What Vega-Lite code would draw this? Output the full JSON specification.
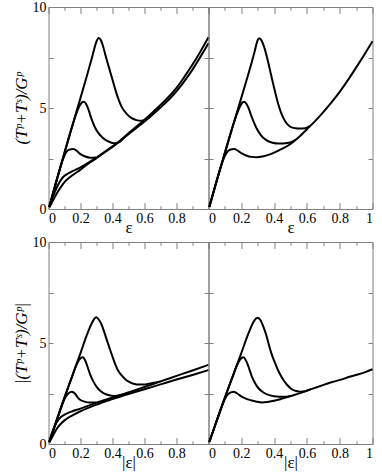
{
  "$schema": "https://vega.github.io/schema/vega-lite/v6.json",
  "background": "white",
  "padding": {"left": 11.5, "top": 0, "right": 0, "bottom": 0},
  "config": {
    "font": "Liberation Serif",
    "view": {"stroke": null},
    "axis": {"grid": false, "labelFont": "Liberation Serif", "labelFontSize": 14, "labelColor": "#000", "titleFont": "Liberation Serif", "titleColor": "#000", "titleFontWeight": "normal", "domainColor": "#808080", "tickColor": "#808080", "domainWidth": 1, "tickWidth": 1},
    "line": {"color": "black", "strokeWidth": 2, "interpolate": "monotone"}
  },
  "datasets": {
    "tl": [
      {"c":"A","x":0.005,"y":0.1},{"c":"A","x":0.05,"y":1.4},{"c":"A","x":0.1,"y":2.78},{"c":"A","x":0.15,"y":4.15},{"c":"A","x":0.2,"y":5.5},{"c":"A","x":0.24,"y":6.6},{"c":"A","x":0.265,"y":7.3},{"c":"A","x":0.285,"y":7.9},{"c":"A","x":0.3,"y":8.3},{"c":"A","x":0.312,"y":8.47},{"c":"A","x":0.325,"y":8.4},{"c":"A","x":0.34,"y":8.08},{"c":"A","x":0.36,"y":7.5},{"c":"A","x":0.38,"y":6.95},{"c":"A","x":0.4,"y":6.4},{"c":"A","x":0.42,"y":5.85},{"c":"A","x":0.44,"y":5.38},{"c":"A","x":0.46,"y":5.02},{"c":"A","x":0.49,"y":4.7},{"c":"A","x":0.52,"y":4.5},{"c":"A","x":0.55,"y":4.4},{"c":"A","x":0.58,"y":4.37},{"c":"A","x":0.61,"y":4.45},{"c":"A","x":0.64,"y":4.62},{"c":"A","x":0.67,"y":4.92},
      {"c":"B","x":0.005,"y":0.1},{"c":"B","x":0.05,"y":1.4},{"c":"B","x":0.1,"y":2.78},{"c":"B","x":0.15,"y":4.15},{"c":"B","x":0.175,"y":4.75},{"c":"B","x":0.195,"y":5.12},{"c":"B","x":0.21,"y":5.28},{"c":"B","x":0.222,"y":5.31},{"c":"B","x":0.235,"y":5.2},{"c":"B","x":0.25,"y":4.92},{"c":"B","x":0.267,"y":4.5},{"c":"B","x":0.29,"y":4.05},{"c":"B","x":0.31,"y":3.78},{"c":"B","x":0.34,"y":3.52},{"c":"B","x":0.37,"y":3.36},{"c":"B","x":0.41,"y":3.25},{"c":"B","x":0.44,"y":3.3},{"c":"B","x":0.47,"y":3.52},
      {"c":"C","x":0.005,"y":0.1},{"c":"C","x":0.05,"y":1.4},{"c":"C","x":0.09,"y":2.45},{"c":"C","x":0.11,"y":2.8},{"c":"C","x":0.13,"y":2.94},{"c":"C","x":0.156,"y":2.97},{"c":"C","x":0.18,"y":2.85},{"c":"C","x":0.2,"y":2.72},{"c":"C","x":0.23,"y":2.6},{"c":"C","x":0.26,"y":2.54},{"c":"C","x":0.3,"y":2.55},
      {"c":"U","x":0.005,"y":0.1},{"c":"U","x":0.02,"y":0.45},{"c":"U","x":0.04,"y":0.85},{"c":"U","x":0.06,"y":1.2},{"c":"U","x":0.08,"y":1.47},{"c":"U","x":0.1,"y":1.64},{"c":"U","x":0.125,"y":1.77},{"c":"U","x":0.15,"y":1.87},{"c":"U","x":0.2,"y":2.06},{"c":"U","x":0.25,"y":2.3},{"c":"U","x":0.3,"y":2.55},{"c":"U","x":0.35,"y":2.82},{"c":"U","x":0.4,"y":3.1},{"c":"U","x":0.45,"y":3.4},{"c":"U","x":0.5,"y":3.75},{"c":"U","x":0.55,"y":4.08},{"c":"U","x":0.6,"y":4.42},{"c":"U","x":0.65,"y":4.78},{"c":"U","x":0.7,"y":5.15},{"c":"U","x":0.75,"y":5.55},{"c":"U","x":0.8,"y":6.0},{"c":"U","x":0.85,"y":6.55},{"c":"U","x":0.9,"y":7.15},{"c":"U","x":0.95,"y":7.8},{"c":"U","x":1.0,"y":8.5},
      {"c":"L","x":0.005,"y":0.08},{"c":"L","x":0.02,"y":0.3},{"c":"L","x":0.04,"y":0.6},{"c":"L","x":0.06,"y":0.88},{"c":"L","x":0.08,"y":1.12},{"c":"L","x":0.1,"y":1.33},{"c":"L","x":0.125,"y":1.52},{"c":"L","x":0.15,"y":1.67},{"c":"L","x":0.2,"y":1.95},{"c":"L","x":0.25,"y":2.25},{"c":"L","x":0.3,"y":2.52},{"c":"L","x":0.35,"y":2.8},{"c":"L","x":0.4,"y":3.07},{"c":"L","x":0.5,"y":3.7},{"c":"L","x":0.6,"y":4.33},{"c":"L","x":0.7,"y":5.02},{"c":"L","x":0.8,"y":5.83},{"c":"L","x":0.9,"y":6.9},{"c":"L","x":1.0,"y":8.2}
    ],
    "tr": [
      {"c":"C","x":0.005,"y":0.1},{"c":"C","x":0.05,"y":1.4},{"c":"C","x":0.09,"y":2.45},{"c":"C","x":0.11,"y":2.78},{"c":"C","x":0.13,"y":2.93},{"c":"C","x":0.157,"y":2.97},{"c":"C","x":0.18,"y":2.88},{"c":"C","x":0.2,"y":2.77},{"c":"C","x":0.23,"y":2.65},{"c":"C","x":0.26,"y":2.58},{"c":"C","x":0.295,"y":2.56},{"c":"C","x":0.33,"y":2.6},{"c":"C","x":0.37,"y":2.69},{"c":"C","x":0.4,"y":2.79},{"c":"C","x":0.45,"y":2.99},{"c":"C","x":0.5,"y":3.22},{"c":"C","x":0.55,"y":3.55},{"c":"C","x":0.6,"y":3.95},{"c":"C","x":0.65,"y":4.35},{"c":"C","x":0.7,"y":4.8},{"c":"C","x":0.75,"y":5.28},{"c":"C","x":0.8,"y":5.8},{"c":"C","x":0.85,"y":6.38},{"c":"C","x":0.9,"y":7.0},{"c":"C","x":0.95,"y":7.64},{"c":"C","x":1.0,"y":8.3},
      {"c":"B","x":0.005,"y":0.1},{"c":"B","x":0.05,"y":1.4},{"c":"B","x":0.1,"y":2.78},{"c":"B","x":0.15,"y":4.15},{"c":"B","x":0.175,"y":4.75},{"c":"B","x":0.195,"y":5.12},{"c":"B","x":0.208,"y":5.28},{"c":"B","x":0.218,"y":5.31},{"c":"B","x":0.232,"y":5.2},{"c":"B","x":0.248,"y":4.92},{"c":"B","x":0.265,"y":4.52},{"c":"B","x":0.29,"y":4.05},{"c":"B","x":0.32,"y":3.65},{"c":"B","x":0.35,"y":3.42},{"c":"B","x":0.39,"y":3.28},{"c":"B","x":0.43,"y":3.24},{"c":"B","x":0.47,"y":3.26},{"c":"B","x":0.5,"y":3.3},{"c":"B","x":0.53,"y":3.42},
      {"c":"A","x":0.005,"y":0.1},{"c":"A","x":0.05,"y":1.4},{"c":"A","x":0.1,"y":2.78},{"c":"A","x":0.15,"y":4.15},{"c":"A","x":0.2,"y":5.5},{"c":"A","x":0.24,"y":6.6},{"c":"A","x":0.265,"y":7.3},{"c":"A","x":0.283,"y":7.85},{"c":"A","x":0.297,"y":8.3},{"c":"A","x":0.308,"y":8.45},{"c":"A","x":0.32,"y":8.38},{"c":"A","x":0.34,"y":8.0},{"c":"A","x":0.36,"y":7.4},{"c":"A","x":0.38,"y":6.7},{"c":"A","x":0.4,"y":6.0},{"c":"A","x":0.42,"y":5.35},{"c":"A","x":0.44,"y":4.82},{"c":"A","x":0.46,"y":4.45},{"c":"A","x":0.48,"y":4.2},{"c":"A","x":0.5,"y":4.07},{"c":"A","x":0.53,"y":4.0},{"c":"A","x":0.56,"y":3.98},{"c":"A","x":0.59,"y":4.0},{"c":"A","x":0.62,"y":4.11}
    ],
    "bl": [
      {"c":"A","x":0.005,"y":0.1},{"c":"A","x":0.05,"y":1.15},{"c":"A","x":0.1,"y":2.3},{"c":"A","x":0.15,"y":3.4},{"c":"A","x":0.2,"y":4.5},{"c":"A","x":0.24,"y":5.4},{"c":"A","x":0.26,"y":5.8},{"c":"A","x":0.28,"y":6.12},{"c":"A","x":0.298,"y":6.27},{"c":"A","x":0.315,"y":6.15},{"c":"A","x":0.335,"y":5.85},{"c":"A","x":0.35,"y":5.5},{"c":"A","x":0.37,"y":5.02},{"c":"A","x":0.39,"y":4.55},{"c":"A","x":0.41,"y":4.1},{"c":"A","x":0.433,"y":3.66},{"c":"A","x":0.46,"y":3.37},{"c":"A","x":0.485,"y":3.17},{"c":"A","x":0.51,"y":3.05},{"c":"A","x":0.537,"y":2.97},{"c":"A","x":0.565,"y":2.94},{"c":"A","x":0.595,"y":2.94},{"c":"A","x":0.63,"y":2.98},{"c":"A","x":0.67,"y":3.04},{"c":"A","x":0.7,"y":3.1},
      {"c":"B","x":0.005,"y":0.1},{"c":"B","x":0.05,"y":1.15},{"c":"B","x":0.1,"y":2.3},{"c":"B","x":0.15,"y":3.4},{"c":"B","x":0.17,"y":3.83},{"c":"B","x":0.19,"y":4.15},{"c":"B","x":0.205,"y":4.27},{"c":"B","x":0.215,"y":4.29},{"c":"B","x":0.23,"y":4.12},{"c":"B","x":0.245,"y":3.8},{"c":"B","x":0.26,"y":3.45},{"c":"B","x":0.28,"y":3.1},{"c":"B","x":0.3,"y":2.84},{"c":"B","x":0.325,"y":2.62},{"c":"B","x":0.35,"y":2.49},{"c":"B","x":0.38,"y":2.41},{"c":"B","x":0.41,"y":2.38},{"c":"B","x":0.45,"y":2.42},{"c":"B","x":0.5,"y":2.55},
      {"c":"C","x":0.005,"y":0.1},{"c":"C","x":0.05,"y":1.15},{"c":"C","x":0.08,"y":1.83},{"c":"C","x":0.1,"y":2.23},{"c":"C","x":0.12,"y":2.47},{"c":"C","x":0.146,"y":2.59},{"c":"C","x":0.165,"y":2.5},{"c":"C","x":0.183,"y":2.3},{"c":"C","x":0.2,"y":2.18},{"c":"C","x":0.225,"y":2.1},{"c":"C","x":0.26,"y":2.05},{"c":"C","x":0.3,"y":2.05},
      {"c":"U","x":0.005,"y":0.1},{"c":"U","x":0.02,"y":0.5},{"c":"U","x":0.04,"y":0.9},{"c":"U","x":0.06,"y":1.18},{"c":"U","x":0.08,"y":1.35},{"c":"U","x":0.1,"y":1.45},{"c":"U","x":0.12,"y":1.53},{"c":"U","x":0.15,"y":1.62},{"c":"U","x":0.2,"y":1.75},{"c":"U","x":0.3,"y":2.05},{"c":"U","x":0.4,"y":2.3},{"c":"U","x":0.5,"y":2.55},{"c":"U","x":0.6,"y":2.82},{"c":"U","x":0.7,"y":3.1},{"c":"U","x":0.8,"y":3.37},{"c":"U","x":0.9,"y":3.64},{"c":"U","x":1.0,"y":3.92},
      {"c":"L","x":0.005,"y":0.08},{"c":"L","x":0.02,"y":0.3},{"c":"L","x":0.04,"y":0.6},{"c":"L","x":0.06,"y":0.85},{"c":"L","x":0.08,"y":1.03},{"c":"L","x":0.1,"y":1.17},{"c":"L","x":0.12,"y":1.28},{"c":"L","x":0.15,"y":1.42},{"c":"L","x":0.2,"y":1.62},{"c":"L","x":0.3,"y":1.95},{"c":"L","x":0.4,"y":2.22},{"c":"L","x":0.5,"y":2.47},{"c":"L","x":0.6,"y":2.71},{"c":"L","x":0.7,"y":2.95},{"c":"L","x":0.8,"y":3.19},{"c":"L","x":0.9,"y":3.42},{"c":"L","x":1.0,"y":3.66}
    ],
    "br": [
      {"c":"C","x":0.005,"y":0.1},{"c":"C","x":0.05,"y":1.15},{"c":"C","x":0.08,"y":1.83},{"c":"C","x":0.1,"y":2.23},{"c":"C","x":0.12,"y":2.47},{"c":"C","x":0.152,"y":2.59},{"c":"C","x":0.175,"y":2.5},{"c":"C","x":0.203,"y":2.34},{"c":"C","x":0.235,"y":2.22},{"c":"C","x":0.264,"y":2.15},{"c":"C","x":0.295,"y":2.09},{"c":"C","x":0.325,"y":2.06},{"c":"C","x":0.36,"y":2.08},{"c":"C","x":0.407,"y":2.15},{"c":"C","x":0.45,"y":2.25},{"c":"C","x":0.508,"y":2.39},{"c":"C","x":0.56,"y":2.52},{"c":"C","x":0.61,"y":2.67},{"c":"C","x":0.66,"y":2.81},{"c":"C","x":0.711,"y":2.95},{"c":"C","x":0.76,"y":3.08},{"c":"C","x":0.813,"y":3.2},{"c":"C","x":0.86,"y":3.33},{"c":"C","x":0.915,"y":3.45},{"c":"C","x":0.96,"y":3.57},{"c":"C","x":1.0,"y":3.7},
      {"c":"B","x":0.005,"y":0.1},{"c":"B","x":0.05,"y":1.15},{"c":"B","x":0.1,"y":2.3},{"c":"B","x":0.15,"y":3.4},{"c":"B","x":0.17,"y":3.83},{"c":"B","x":0.19,"y":4.15},{"c":"B","x":0.203,"y":4.27},{"c":"B","x":0.213,"y":4.29},{"c":"B","x":0.228,"y":4.14},{"c":"B","x":0.245,"y":3.8},{"c":"B","x":0.264,"y":3.35},{"c":"B","x":0.285,"y":3.0},{"c":"B","x":0.305,"y":2.76},{"c":"B","x":0.335,"y":2.55},{"c":"B","x":0.366,"y":2.43},{"c":"B","x":0.4,"y":2.36},{"c":"B","x":0.43,"y":2.34},{"c":"B","x":0.46,"y":2.34},{"c":"B","x":0.5,"y":2.37},
      {"c":"A","x":0.005,"y":0.1},{"c":"A","x":0.05,"y":1.15},{"c":"A","x":0.1,"y":2.3},{"c":"A","x":0.15,"y":3.4},{"c":"A","x":0.2,"y":4.5},{"c":"A","x":0.24,"y":5.4},{"c":"A","x":0.26,"y":5.8},{"c":"A","x":0.28,"y":6.12},{"c":"A","x":0.299,"y":6.25},{"c":"A","x":0.315,"y":6.15},{"c":"A","x":0.335,"y":5.8},{"c":"A","x":0.35,"y":5.45},{"c":"A","x":0.366,"y":4.98},{"c":"A","x":0.385,"y":4.45},{"c":"A","x":0.407,"y":3.99},{"c":"A","x":0.43,"y":3.55},{"c":"A","x":0.457,"y":3.17},{"c":"A","x":0.48,"y":2.92},{"c":"A","x":0.508,"y":2.71},{"c":"A","x":0.535,"y":2.62},{"c":"A","x":0.56,"y":2.59},{"c":"A","x":0.59,"y":2.61},{"c":"A","x":0.62,"y":2.7}
    ]
  },
  "columns": 2,
  "spacing": {"row": 33, "column": 0},
  "bounds": "flush",
  "concat": [
    {
      "width": 160, "height": 202,
      "data": {"name": "tl"},
      "resolve": {"axis": {"x": "independent", "y": "independent"}},
      "layer": [
        {"mark": {"type": "line"},
         "encoding": {
           "x": {"field": "x", "type": "quantitative", "scale": {"domain": [0, 1], "nice": false}, "axis": {"orient": "bottom", "values": [0, 0.2, 0.4, 0.6, 0.8], "format": "~g", "tickSize": -6.5, "labelPadding": 9, "title": "ε", "titleFontSize": 17, "titlePadding": -6}},
           "y": {"field": "y", "type": "quantitative", "scale": {"domain": [0, 10], "nice": false}, "axis": {"orient": "left", "values": [0, 2.5, 5, 7.5, 10], "labelExpr": "datum.value % 5 === 0 ? datum.label : ''", "tickSize": -4.5, "labelPadding": 7, "title": "(Tᵖ+Tˢ)/Gᵖ", "titleFontSize": 17, "titleFontStyle": "italic", "titlePadding": 2}},
           "detail": {"field": "c"}}},
        {"mark": {"type": "line", "opacity": 0},
         "encoding": {
           "x": {"field": "x", "type": "quantitative", "scale": {"domain": [0, 1], "nice": false}, "axis": {"orient": "bottom", "values": [0.1, 0.3, 0.5, 0.7, 0.9], "tickSize": -3.3, "labels": false, "domain": false, "title": null}},
           "y": {"field": "y", "type": "quantitative", "scale": {"domain": [0, 10], "nice": false}, "axis": {"orient": "right", "values": [0, 2.5, 5, 7.5, 10], "tickSize": -4.5, "labels": false, "title": null}},
           "detail": {"field": "c"}}},
        {"mark": {"type": "line", "opacity": 0},
         "encoding": {
           "x": {"field": "x", "type": "quantitative", "scale": {"domain": [0, 1], "nice": false}, "axis": {"orient": "top", "values": [0, 0.2, 0.4, 0.6, 0.8, 1], "tickSize": -6.5, "labels": false, "title": null}},
           "y": {"field": "y", "type": "quantitative", "scale": {"domain": [0, 10], "nice": false}, "axis": null},
           "detail": {"field": "c"}}},
        {"mark": {"type": "line", "opacity": 0},
         "encoding": {
           "x": {"field": "x", "type": "quantitative", "scale": {"domain": [0, 1], "nice": false}, "axis": {"orient": "top", "values": [0.1, 0.3, 0.5, 0.7, 0.9], "tickSize": -3.3, "labels": false, "domain": false, "title": null}},
           "y": {"field": "y", "type": "quantitative", "scale": {"domain": [0, 10], "nice": false}, "axis": null},
           "detail": {"field": "c"}}}
      ]
    },
    {
      "width": 164, "height": 202,
      "data": {"name": "tr"},
      "resolve": {"axis": {"x": "independent", "y": "independent"}},
      "layer": [
        {"mark": {"type": "line"},
         "encoding": {
           "x": {"field": "x", "type": "quantitative", "scale": {"domain": [0, 1], "nice": false}, "axis": {"orient": "bottom", "values": [0, 0.2, 0.4, 0.6, 0.8, 1], "format": "~g", "tickSize": -6.5, "labelPadding": 9, "title": "ε", "titleFontSize": 17, "titlePadding": -6}},
           "y": {"field": "y", "type": "quantitative", "scale": {"domain": [0, 10], "nice": false}, "axis": {"orient": "left", "values": [0, 2.5, 5, 7.5, 10], "tickSize": -4.5, "labels": false, "title": null}},
           "detail": {"field": "c"}}},
        {"mark": {"type": "line", "opacity": 0},
         "encoding": {
           "x": {"field": "x", "type": "quantitative", "scale": {"domain": [0, 1], "nice": false}, "axis": {"orient": "bottom", "values": [0.1, 0.3, 0.5, 0.7, 0.9], "tickSize": -3.3, "labels": false, "domain": false, "title": null}},
           "y": {"field": "y", "type": "quantitative", "scale": {"domain": [0, 10], "nice": false}, "axis": {"orient": "right", "values": [0, 2.5, 5, 7.5, 10], "tickSize": -4.5, "labels": false, "title": null}},
           "detail": {"field": "c"}}},
        {"mark": {"type": "line", "opacity": 0},
         "encoding": {
           "x": {"field": "x", "type": "quantitative", "scale": {"domain": [0, 1], "nice": false}, "axis": {"orient": "top", "values": [0, 0.2, 0.4, 0.6, 0.8, 1], "tickSize": -6.5, "labels": false, "title": null}},
           "y": {"field": "y", "type": "quantitative", "scale": {"domain": [0, 10], "nice": false}, "axis": null},
           "detail": {"field": "c"}}},
        {"mark": {"type": "line", "opacity": 0},
         "encoding": {
           "x": {"field": "x", "type": "quantitative", "scale": {"domain": [0, 1], "nice": false}, "axis": {"orient": "top", "values": [0.1, 0.3, 0.5, 0.7, 0.9], "tickSize": -3.3, "labels": false, "domain": false, "title": null}},
           "y": {"field": "y", "type": "quantitative", "scale": {"domain": [0, 10], "nice": false}, "axis": null},
           "detail": {"field": "c"}}}
      ]
    },
    {
      "width": 160, "height": 202,
      "data": {"name": "bl"},
      "resolve": {"axis": {"x": "independent", "y": "independent"}},
      "layer": [
        {"mark": {"type": "line"},
         "encoding": {
           "x": {"field": "x", "type": "quantitative", "scale": {"domain": [0, 1], "nice": false}, "axis": {"orient": "bottom", "values": [0, 0.2, 0.4, 0.6, 0.8], "format": "~g", "tickSize": -6.5, "labelPadding": 9, "title": "|ε|", "titleFontSize": 17, "titlePadding": -6}},
           "y": {"field": "y", "type": "quantitative", "scale": {"domain": [0, 10], "nice": false}, "axis": {"orient": "left", "values": [0, 2.5, 5, 7.5, 10], "labelExpr": "datum.value % 5 === 0 ? datum.label : ''", "tickSize": -4.5, "labelPadding": 7, "title": "|(Tᵖ+Tˢ)/Gᵖ|", "titleFontSize": 17, "titleFontStyle": "italic", "titlePadding": 2}},
           "detail": {"field": "c"}}},
        {"mark": {"type": "line", "opacity": 0},
         "encoding": {
           "x": {"field": "x", "type": "quantitative", "scale": {"domain": [0, 1], "nice": false}, "axis": {"orient": "bottom", "values": [0.1, 0.3, 0.5, 0.7, 0.9], "tickSize": -3.3, "labels": false, "domain": false, "title": null}},
           "y": {"field": "y", "type": "quantitative", "scale": {"domain": [0, 10], "nice": false}, "axis": {"orient": "right", "values": [0, 2.5, 5, 7.5, 10], "tickSize": -4.5, "labels": false, "title": null}},
           "detail": {"field": "c"}}},
        {"mark": {"type": "line", "opacity": 0},
         "encoding": {
           "x": {"field": "x", "type": "quantitative", "scale": {"domain": [0, 1], "nice": false}, "axis": {"orient": "top", "values": [0, 0.2, 0.4, 0.6, 0.8, 1], "tickSize": -6.5, "labels": false, "title": null}},
           "y": {"field": "y", "type": "quantitative", "scale": {"domain": [0, 10], "nice": false}, "axis": null},
           "detail": {"field": "c"}}},
        {"mark": {"type": "line", "opacity": 0},
         "encoding": {
           "x": {"field": "x", "type": "quantitative", "scale": {"domain": [0, 1], "nice": false}, "axis": {"orient": "top", "values": [0.1, 0.3, 0.5, 0.7, 0.9], "tickSize": -3.3, "labels": false, "domain": false, "title": null}},
           "y": {"field": "y", "type": "quantitative", "scale": {"domain": [0, 10], "nice": false}, "axis": null},
           "detail": {"field": "c"}}}
      ]
    },
    {
      "width": 164, "height": 202,
      "data": {"name": "br"},
      "resolve": {"axis": {"x": "independent", "y": "independent"}},
      "layer": [
        {"mark": {"type": "line"},
         "encoding": {
           "x": {"field": "x", "type": "quantitative", "scale": {"domain": [0, 1], "nice": false}, "axis": {"orient": "bottom", "values": [0, 0.2, 0.4, 0.6, 0.8, 1], "format": "~g", "tickSize": -6.5, "labelPadding": 9, "title": "|ε|", "titleFontSize": 17, "titlePadding": -6}},
           "y": {"field": "y", "type": "quantitative", "scale": {"domain": [0, 10], "nice": false}, "axis": {"orient": "left", "values": [0, 2.5, 5, 7.5, 10], "tickSize": -4.5, "labels": false, "title": null}},
           "detail": {"field": "c"}}},
        {"mark": {"type": "line", "opacity": 0},
         "encoding": {
           "x": {"field": "x", "type": "quantitative", "scale": {"domain": [0, 1], "nice": false}, "axis": {"orient": "bottom", "values": [0.1, 0.3, 0.5, 0.7, 0.9], "tickSize": -3.3, "labels": false, "domain": false, "title": null}},
           "y": {"field": "y", "type": "quantitative", "scale": {"domain": [0, 10], "nice": false}, "axis": {"orient": "right", "values": [0, 2.5, 5, 7.5, 10], "tickSize": -4.5, "labels": false, "title": null}},
           "detail": {"field": "c"}}},
        {"mark": {"type": "line", "opacity": 0},
         "encoding": {
           "x": {"field": "x", "type": "quantitative", "scale": {"domain": [0, 1], "nice": false}, "axis": {"orient": "top", "values": [0, 0.2, 0.4, 0.6, 0.8, 1], "tickSize": -6.5, "labels": false, "title": null}},
           "y": {"field": "y", "type": "quantitative", "scale": {"domain": [0, 10], "nice": false}, "axis": null},
           "detail": {"field": "c"}}},
        {"mark": {"type": "line", "opacity": 0},
         "encoding": {
           "x": {"field": "x", "type": "quantitative", "scale": {"domain": [0, 1], "nice": false}, "axis": {"orient": "top", "values": [0.1, 0.3, 0.5, 0.7, 0.9], "tickSize": -3.3, "labels": false, "domain": false, "title": null}},
           "y": {"field": "y", "type": "quantitative", "scale": {"domain": [0, 10], "nice": false}, "axis": null},
           "detail": {"field": "c"}}}
      ]
    }
  ]
}
